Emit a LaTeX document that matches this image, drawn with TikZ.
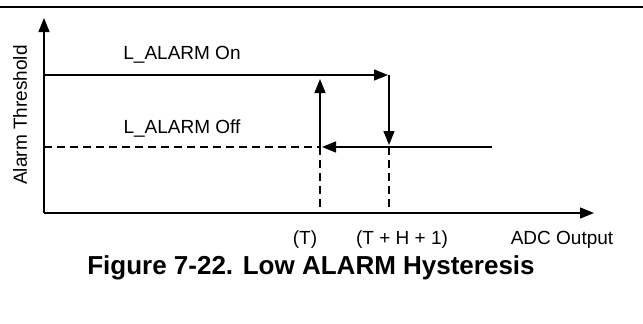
\documentclass[tikz,border=0pt]{standalone}
\usepackage{fontspec}
\setmainfont{Liberation Sans}
\usetikzlibrary{arrows.meta}
\begin{document}
\begin{tikzpicture}[x=1pt,y=-1pt,>={Triangle[length=14pt,width=11pt]},line width=1.3pt,
	  lbl/.style={font=\fontsize{19}{22}\selectfont,inner sep=0pt},
	  dsh/.style={dash pattern=on 8pt off 5pt}]
	  \useasboundingbox (0,0) rectangle (643,324);
	  \draw[line width=2pt] (0,7) -- (643,7);
	  % axes
	  \coordinate (o) at (44,213);
	  \coordinate (ytop) at (44,18);
	  \coordinate (xend) at (594,213);
	  \draw[->] (o) -- (ytop);
	  \draw[->] (o) -- (xend);
	  % thresholds
	  \coordinate (on0) at (44,75);
	  \coordinate (on1) at (389,75);
	  \coordinate (off0) at (44,147);
	  \coordinate (t) at (320,147);
	  \coordinate (th) at (389,147);
	  \coordinate (off1) at (492,147);
	  \coordinate (tb) at (320,213);
	  \coordinate (thb) at (389,213);
	  \draw[->,shorten >=1pt] (on0) -- (on1);
	  \draw[->,shorten >=4pt] (t) -- (t |- on1);
	  \draw[->,shorten >=2pt] (on1) -- (th);
	  \draw[->,shorten >=2pt] (off1) -- (t);
	  \draw[dsh] (off0) -- (t);
	  \draw[dsh] (t) -- (tb);
	  \draw[dsh] (th) -- (thb);
	  % labels
	  \node[lbl] (lon) at (182,55) {L\_ALARM On};
	  \node[lbl] (loff) at (182,129) {L\_ALARM Off};
	  \node[lbl,rotate=90] (ylbl) at (20,115) {Alarm Threshold};
	  \node[lbl] (lt) at (305,240) {(T)};
	  \node[lbl] (lth) at (402,240) {(T + H + 1)};
	  \node[lbl] (xlbl) at (562,240) {ADC Output};
	  \node[font=\fontsize{26}{30}\selectfont\bfseries,inner sep=0pt] (cap) at (311,268) {Figure 7-22. Low ALARM Hysteresis};
	\end{tikzpicture}
\end{document}
